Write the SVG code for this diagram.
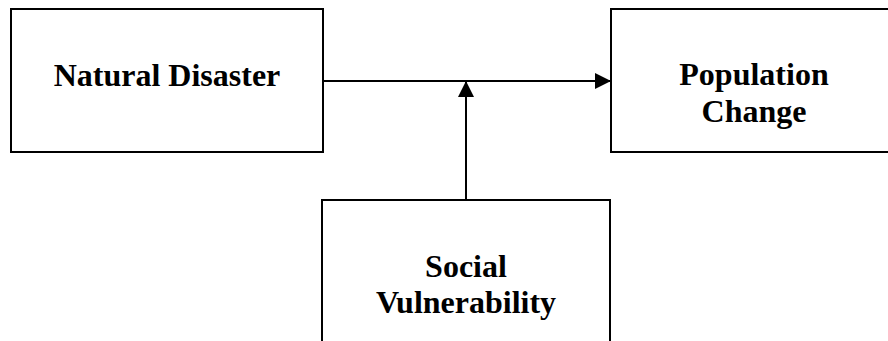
<svg xmlns="http://www.w3.org/2000/svg" width="888" height="341" viewBox="0 0 888 341">
<defs>
<style>
.box{fill:#fff;stroke:#000;stroke-width:2}
.lbl{font-weight:bold;font-size:32px;fill:#000;text-anchor:middle}
.conn{stroke:#000;stroke-width:2;fill:none}
</style>
<marker id="arr" markerWidth="16" markerHeight="16" refX="16" refY="8" orient="auto" markerUnits="userSpaceOnUse">
<path d="M0,0 L16,8 L0,16 Z" fill="#000"/>
</marker>
</defs>
<rect width="888" height="341" fill="#fff"/>
<g id="natural-disaster">
<rect class="box" x="11" y="9" width="312" height="143"/>
<text class="lbl" font-family="Liberation Serif, Tinos, Times New Roman, serif" x="167" y="86">Natural Disaster</text>
</g>
<g id="population-change">
<rect class="box" x="611" y="9" width="290" height="143"/>
<text class="lbl" font-family="Liberation Serif, Tinos, Times New Roman, serif" x="754" y="85">Population</text>
<text class="lbl" font-family="Liberation Serif, Tinos, Times New Roman, serif" x="754" y="122">Change</text>
</g>
<g id="social-vulnerability">
<rect class="box" x="322" y="200" width="288" height="160"/>
<text class="lbl" font-family="Liberation Serif, Tinos, Times New Roman, serif" x="466" y="277">Social</text>
<text class="lbl" font-family="Liberation Serif, Tinos, Times New Roman, serif" x="466" y="313">Vulnerability</text>
</g>
<g id="connectors">
<line class="conn" x1="323" y1="81" x2="611" y2="81" marker-end="url(#arr)"/>
<line class="conn" x1="466" y1="200" x2="466" y2="81" marker-end="url(#arr)"/>
</g>
</svg>
